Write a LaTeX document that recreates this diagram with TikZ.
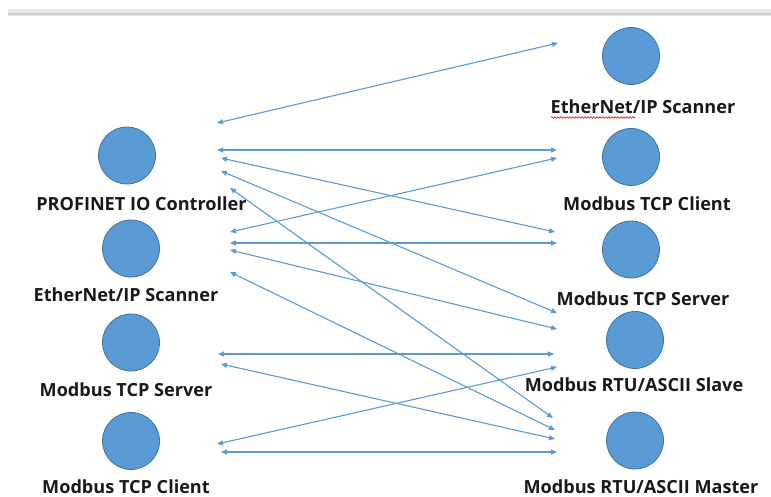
\documentclass[tikz,border=0pt]{standalone}
\usepackage{fontspec}
\setmainfont{Open Sans}
\usetikzlibrary{arrows.meta,decorations.pathmorphing}
\definecolor{dotfill}{HTML}{5B9BD5}
\definecolor{dotedge}{HTML}{41719C}
\definecolor{linkcol}{HTML}{5B9BD5}
\definecolor{barfill}{HTML}{E8E8E8}
\definecolor{barline}{HTML}{CCCCCC}
\tikzset{
  dev/.style={circle, fill=dotfill, draw=dotedge, line width=0.8pt, minimum size=57pt, inner sep=0pt},
  lbl/.style={font=\fontsize{18.1}{21}\selectfont\bfseries, inner sep=0pt, anchor=base, text=black!90},
  link/.style={draw=linkcol, line width=1.1pt, {Triangle[length=6pt,width=5pt]}-{Triangle[length=6pt,width=5pt]}},
  spell/.style={draw=red!85!black, line width=0.6pt, decorate, decoration={snake, amplitude=0.8pt, segment length=3pt}}
}
\begin{document}
\begin{tikzpicture}[x=1pt,y=-1pt]
\useasboundingbox[fill=white] (0,0) rectangle (771,497);
% top bar
\fill[barfill] (8,9) rectangle (771,16);
\fill[barline] (8,13.5) rectangle (771,15.5);

% left devices
\node[dev] (pn)  at (127,155.5) {};
\node[dev] (eipL) at (131,248.5) {};
\node[dev] (mtsL) at (131,342.5) {};
\node[dev] (mtcL) at (131,441) {};
\node[lbl] (pnT)   at (141.5,211) {PROFINET IO Controller};
\node[lbl] (eipLT) at (126,301) {EtherNet/IP Scanner};
\node[lbl] (mtsLT) at (126,396.5) {Modbus TCP Server};
\node[lbl] (mtcLT) at (126,493.5) {Modbus TCP Client};

% right devices
\node[dev] (eipR) at (631,56) {};
\node[dev] (mtcR) at (631,157) {};
\node[dev] (mtsR) at (631,249.5) {};
\node[dev] (rtuS) at (635,340) {};
\node[dev] (rtuM) at (635,440.5) {};
\node[lbl] (eipRT) at (643,114) {EtherNet/IP Scanner};
\node[lbl] (mtcRT) at (647,210.5) {Modbus TCP Client};
\node[lbl] (mtsRT) at (643,305) {Modbus TCP Server};
\node[lbl] (rtuST) at (634,391.5) {Modbus RTU/ASCII Slave};
\node[lbl] (rtuMT) at (641,493.5) {Modbus RTU/ASCII Master};
\coordinate (spA) at (551,117.5);
\coordinate (spB) at (635,117.5);
\draw[spell] (spA) -- (spB);

% connector end points
\coordinate (a1) at (217,123);  \coordinate (b1) at (558,43);
\coordinate (a2) at (217,150);  \coordinate (b2) at (557,150);
\coordinate (a3) at (221,158);  \coordinate (b3) at (555,232);
\coordinate (a4) at (221,171);  \coordinate (b4) at (557,313);
\coordinate (a5) at (230,188);  \coordinate (b5) at (553,418);
\coordinate (a6) at (230,232);  \coordinate (b6) at (557,158);
\coordinate (a7) at (230,243);  \coordinate (b7) at (557,243);
\coordinate (a8) at (230,250);  \coordinate (b8) at (557,329);
\coordinate (a9) at (230,272);  \coordinate (b9) at (555,430);
\coordinate (a10) at (218,354); \coordinate (b10) at (554,354);
\coordinate (a11) at (221,364); \coordinate (b11) at (555,439);
\coordinate (a12) at (217,444); \coordinate (b12) at (557,367);
\coordinate (a13) at (221,452); \coordinate (b13) at (557,452);

\foreach \i in {1,...,13} {\draw[link] (a\i) -- (b\i);}
\end{tikzpicture}
\end{document}
